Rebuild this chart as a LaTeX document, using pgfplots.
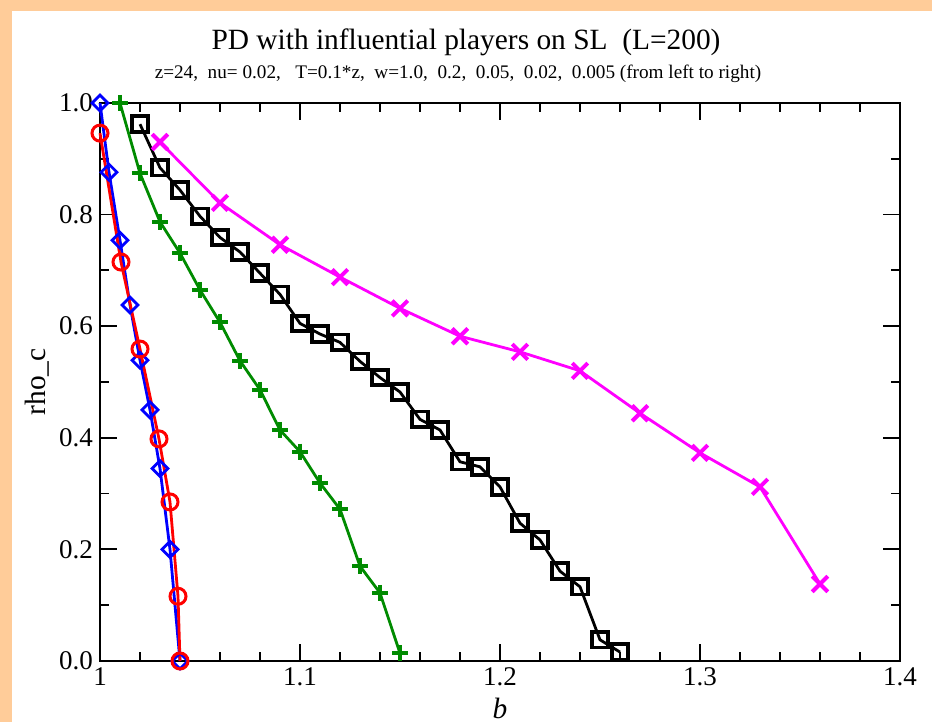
\documentclass[border=0pt]{standalone}
\usepackage{fontspec}
\setmainfont{Liberation Serif}
\usepackage{pgfplots}
\pgfplotsset{compat=1.18}
\definecolor{peach}{HTML}{FFCC99}
\definecolor{ggreen}{RGB}{0,139,0}
\definecolor{mag}{RGB}{255,0,255}
\definecolor{bblue}{RGB}{0,0,255}
\definecolor{rred}{RGB}{255,0,0}

\begin{document}
\begin{tikzpicture}
% frame: 1px = 0.5pt, axis box 800x558 px
\fill[peach] (-50pt,-30.5pt) rectangle (416pt,330.5pt);
\fill[white] (-44pt,-30.5pt) rectangle (416pt,325pt);

\begin{axis}[
    at={(0pt,0pt)}, anchor=south west,
    width=400pt, height=279pt, scale only axis,
    xmin=1, xmax=1.4, ymin=0, ymax=1,
    xtick={1,1.1,1.2,1.3,1.4},
    xticklabels={1,1.1,1.2,1.3,1.4},
    ytick={0,0.2,0.4,0.6,0.8,1.0},
    yticklabels={0.0,0.2,0.4,0.6,0.8,1.0},
    minor x tick num=4, minor y tick num=1,
    tick align=inside,
    major tick length=8.5pt, minor tick length=4.5pt,
    axis line style={line width=1pt},
    every tick/.style={black, line width=0.9pt},
    tick label style={font=\fontsize{13.5}{16}\selectfont},
    xlabel={\textit{b}},
    ylabel={rho\_c},
    label style={font=\fontsize{14.7}{17}\selectfont},
    xlabel style={at={(axis description cs:0.5,-0.0842)}, anchor=center},
    ylabel style={at={(axis description cs:-0.0788,0.5)}, anchor=center},
    clip=false,
]
% w = 1.0
\addplot[color=bblue, line width=1.4pt, mark=square, mark size=2.8pt,
    mark options={rotate=45, line width=1.4pt, fill=none}] coordinates {
    (1.000,1.000) (1.0045,0.876) (1.010,0.754) (1.015,0.638) (1.020,0.539)
    (1.025,0.450) (1.030,0.345) (1.035,0.200) (1.040,0.000)
};
% w = 0.2
\addplot[color=rred, line width=1.4pt, mark=o, mark size=4pt,
    mark options={line width=1.5pt}] coordinates {
    (1.000,0.946) (1.0105,0.715) (1.020,0.559) (1.0295,0.398)
    (1.035,0.285) (1.039,0.116) (1.040,0.000)
};
% w = 0.05
\addplot[color=ggreen, line width=1.4pt, mark=+, mark size=4pt,
    mark options={line width=2pt}] coordinates {
    (1.01,1.000) (1.02,0.874) (1.03,0.787) (1.04,0.731) (1.05,0.665)
    (1.06,0.607) (1.07,0.538) (1.08,0.486) (1.09,0.414) (1.10,0.375)
    (1.11,0.319) (1.12,0.272) (1.13,0.170) (1.14,0.122) (1.15,0.014)
};
% w = 0.02
\addplot[color=black, line width=1.4pt, mark=square, mark size=3.9pt,
    mark options={line width=1.9pt}] coordinates {
    (1.02,0.962) (1.03,0.884) (1.04,0.844) (1.05,0.797) (1.06,0.759)
    (1.07,0.733) (1.08,0.695) (1.09,0.657) (1.10,0.605) (1.11,0.586)
    (1.12,0.571) (1.13,0.537) (1.14,0.508) (1.15,0.482) (1.16,0.433)
    (1.17,0.414) (1.18,0.357) (1.19,0.348) (1.20,0.312) (1.21,0.247)
    (1.22,0.217) (1.23,0.161) (1.24,0.133) (1.25,0.038) (1.26,0.016)
};
% w = 0.005
\addplot[color=mag, line width=1.4pt, mark=x, mark size=5.5pt,
    mark options={line width=2pt}] coordinates {
    (1.03,0.930) (1.06,0.821) (1.09,0.746) (1.12,0.688) (1.15,0.632)
    (1.18,0.582) (1.21,0.554) (1.24,0.520) (1.27,0.444) (1.30,0.373)
    (1.33,0.312) (1.36,0.138)
};
\end{axis}

\node[font=\fontsize{14.7}{17}\selectfont] at (183pt,309.5pt) {PD with influential players on SL\ \ (L=200)};
\node[font=\fontsize{9.6}{11}\selectfont] at (179pt,293.5pt)
    {z=24,\ \ nu= 0.02,\ \ \ T=0.1*z,\ \ w=1.0,\ \ 0.2,\ \ 0.05,\ \ 0.02,\ \ 0.005 (from left to right)};

\pgfresetboundingbox
\useasboundingbox (-50pt,-30.5pt) rectangle (416pt,330.5pt);
\end{tikzpicture}
\end{document}
